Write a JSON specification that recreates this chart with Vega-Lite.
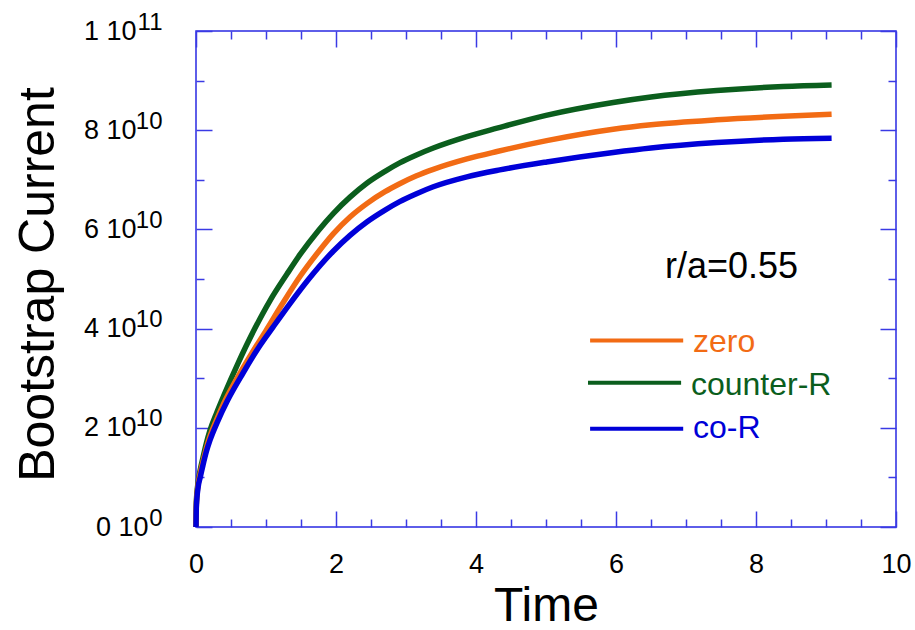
{
  "$schema": "https://vega.github.io/schema/vega-lite/v6.json",
  "width": 700,
  "height": 496,
  "autosize": {"type": "none"},
  "padding": {"left": 196, "top": 31, "right": 19, "bottom": 103},
  "background": "white",
  "config": {
    "view": {"stroke": "#2a2ae2", "strokeWidth": 1.5},
    "font": "Liberation Sans"
  },
  "datasets": {
    "curves": [
      {"series": "counter-R", "time": 0, "current": 0},
      {"series": "counter-R", "time": 0.005, "current": 5e9},
      {"series": "counter-R", "time": 0.03, "current": 9e9},
      {"series": "counter-R", "time": 0.06, "current": 1.15e10},
      {"series": "counter-R", "time": 0.1, "current": 1.4e10},
      {"series": "counter-R", "time": 0.15, "current": 1.7e10},
      {"series": "counter-R", "time": 0.2, "current": 1.95e10},
      {"series": "counter-R", "time": 0.3, "current": 2.32e10},
      {"series": "counter-R", "time": 0.4, "current": 2.66e10},
      {"series": "counter-R", "time": 0.6, "current": 3.3e10},
      {"series": "counter-R", "time": 0.84, "current": 4.0e10},
      {"series": "counter-R", "time": 1.06, "current": 4.57e10},
      {"series": "counter-R", "time": 1.3, "current": 5.1e10},
      {"series": "counter-R", "time": 1.49, "current": 5.5e10},
      {"series": "counter-R", "time": 1.75, "current": 5.98e10},
      {"series": "counter-R", "time": 1.96, "current": 6.32e10},
      {"series": "counter-R", "time": 2.2, "current": 6.65e10},
      {"series": "counter-R", "time": 2.44, "current": 6.93e10},
      {"series": "counter-R", "time": 2.7, "current": 7.17e10},
      {"series": "counter-R", "time": 2.91, "current": 7.34e10},
      {"series": "counter-R", "time": 3.15, "current": 7.5e10},
      {"series": "counter-R", "time": 3.39, "current": 7.64e10},
      {"series": "counter-R", "time": 3.87, "current": 7.87e10},
      {"series": "counter-R", "time": 4.3, "current": 8.04e10},
      {"series": "counter-R", "time": 5.0, "current": 8.3e10},
      {"series": "counter-R", "time": 5.96, "current": 8.56e10},
      {"series": "counter-R", "time": 6.5, "current": 8.67e10},
      {"series": "counter-R", "time": 7.44, "current": 8.8e10},
      {"series": "counter-R", "time": 8.39, "current": 8.88e10},
      {"series": "counter-R", "time": 9.08, "current": 8.91e10},
      {"series": "zero", "time": 0, "current": 0},
      {"series": "zero", "time": 0.005, "current": 4.5e9},
      {"series": "zero", "time": 0.03, "current": 8.5e9},
      {"series": "zero", "time": 0.06, "current": 1.08e10},
      {"series": "zero", "time": 0.1, "current": 1.32e10},
      {"series": "zero", "time": 0.15, "current": 1.6e10},
      {"series": "zero", "time": 0.2, "current": 1.83e10},
      {"series": "zero", "time": 0.3, "current": 2.18e10},
      {"series": "zero", "time": 0.4, "current": 2.5e10},
      {"series": "zero", "time": 0.6, "current": 3.03e10},
      {"series": "zero", "time": 0.8, "current": 3.51e10},
      {"series": "zero", "time": 1.0, "current": 3.96e10},
      {"series": "zero", "time": 1.23, "current": 4.49e10},
      {"series": "zero", "time": 1.49, "current": 5.06e10},
      {"series": "zero", "time": 1.75, "current": 5.55e10},
      {"series": "zero", "time": 1.96, "current": 5.91e10},
      {"series": "zero", "time": 2.2, "current": 6.25e10},
      {"series": "zero", "time": 2.44, "current": 6.52e10},
      {"series": "zero", "time": 2.7, "current": 6.76e10},
      {"series": "zero", "time": 2.91, "current": 6.92e10},
      {"series": "zero", "time": 3.15, "current": 7.08e10},
      {"series": "zero", "time": 3.39, "current": 7.21e10},
      {"series": "zero", "time": 3.87, "current": 7.42e10},
      {"series": "zero", "time": 4.3, "current": 7.57e10},
      {"series": "zero", "time": 5.01, "current": 7.79e10},
      {"series": "zero", "time": 5.96, "current": 8.02e10},
      {"series": "zero", "time": 6.5, "current": 8.11e10},
      {"series": "zero", "time": 7.44, "current": 8.21e10},
      {"series": "zero", "time": 8.39, "current": 8.28e10},
      {"series": "zero", "time": 9.08, "current": 8.32e10},
      {"series": "co-R", "time": 0, "current": 0},
      {"series": "co-R", "time": 0.005, "current": 4e9},
      {"series": "co-R", "time": 0.03, "current": 8e9},
      {"series": "co-R", "time": 0.06, "current": 1.0e10},
      {"series": "co-R", "time": 0.1, "current": 1.25e10},
      {"series": "co-R", "time": 0.15, "current": 1.53e10},
      {"series": "co-R", "time": 0.2, "current": 1.75e10},
      {"series": "co-R", "time": 0.3, "current": 2.1e10},
      {"series": "co-R", "time": 0.45, "current": 2.55e10},
      {"series": "co-R", "time": 0.67, "current": 3.1e10},
      {"series": "co-R", "time": 0.9, "current": 3.63e10},
      {"series": "co-R", "time": 1.1, "current": 4.03e10},
      {"series": "co-R", "time": 1.34, "current": 4.5e10},
      {"series": "co-R", "time": 1.6, "current": 4.98e10},
      {"series": "co-R", "time": 1.96, "current": 5.56e10},
      {"series": "co-R", "time": 2.2, "current": 5.88e10},
      {"series": "co-R", "time": 2.44, "current": 6.15e10},
      {"series": "co-R", "time": 2.7, "current": 6.39e10},
      {"series": "co-R", "time": 2.91, "current": 6.56e10},
      {"series": "co-R", "time": 3.15, "current": 6.72e10},
      {"series": "co-R", "time": 3.39, "current": 6.86e10},
      {"series": "co-R", "time": 3.87, "current": 7.06e10},
      {"series": "co-R", "time": 4.34, "current": 7.2e10},
      {"series": "co-R", "time": 5.01, "current": 7.36e10},
      {"series": "co-R", "time": 5.96, "current": 7.55e10},
      {"series": "co-R", "time": 6.5, "current": 7.64e10},
      {"series": "co-R", "time": 7.44, "current": 7.75e10},
      {"series": "co-R", "time": 8.39, "current": 7.82e10},
      {"series": "co-R", "time": 9.08, "current": 7.84e10}
    ],
    "legendLines": [
      {"series": "zero", "x1": 5.63, "x2": 6.96, "y": 3.76e10, "label": "zero", "lx": 7.1, "ly": 3.72e10},
      {"series": "counter-R", "x1": 5.6, "x2": 6.93, "y": 2.91e10, "label": "counter-R", "lx": 7.07, "ly": 2.87e10},
      {"series": "co-R", "x1": 5.63, "x2": 6.96, "y": 1.98e10, "label": "co-R", "lx": 7.1, "ly": 2.0e10}
    ],
    "annot": [
      {"text": "r/a=0.55", "x": 6.7, "y": 5.25e10}
    ]
  },
  "resolve": {"axis": {"x": "independent", "y": "independent"}},
  "layer": [
    {
      "data": {"name": "curves"},
      "mark": {"type": "line", "strokeWidth": 5.5, "strokeCap": "butt", "interpolate": "monotone"},
      "encoding": {
        "x": {
          "field": "time", "type": "quantitative",
          "scale": {"domain": [0, 10], "nice": false, "zero": false},
          "axis": {
            "orient": "bottom",
            "title": "Time",
            "titleFont": "Liberation Sans", "titleFontSize": 48, "titleFontWeight": "normal", "titleColor": "black",
            "titleBaseline": "alphabetic", "titleY": 93, "titleX": 350, "titleAlign": "center",
            "values": [0, 2, 4, 6, 8, 10],
            "format": "d",
            "labelFont": "Liberation Sans", "labelFontSize": 27, "labelColor": "black",
            "labelOverlap": false, "labelFlush": false,
            "labelPadding": 24,
            "ticks": false, "domain": false, "grid": false
          }
        },
        "y": {
          "field": "current", "type": "quantitative",
          "scale": {"domain": [0, 1e11], "nice": false, "zero": false},
          "axis": {
            "orient": "left",
            "title": "Bootstrap Current",
            "titleFont": "Liberation Sans", "titleFontSize": 50, "titleFontWeight": "normal", "titleColor": "black",
            "titleAngle": -90, "titleBaseline": "alphabetic", "titleAlign": "center",
            "titleX": -143, "titleY": 253,
            "values": [0, 2e10, 4e10, 6e10, 8e10, 1e11],
            "labelExpr": "datum.value == 0 ? '0 10' : (datum.value >= 1e11 ? '1 10' : round(datum.value/1e10) + ' 10')",
            "labelFont": "Liberation Sans", "labelFontSize": 27, "labelColor": "black",
            "labelOverlap": false, "labelFlush": false,
            "labelPadding": {"condition": {"test": "datum.value == 0", "value": 48}, "value": 60},
            "ticks": false, "domain": false, "grid": false
          }
        },
        "color": {
          "field": "series", "type": "nominal",
          "scale": {"domain": ["zero", "counter-R", "co-R"], "range": ["#f26b14", "#0b5e1d", "#0000d8"]},
          "legend": null
        },
        "detail": {"field": "series"}
      }
    },
    {
      "data": {"name": "curves"},
      "mark": {"type": "point", "opacity": 0},
      "encoding": {
        "x": {
          "field": "time", "type": "quantitative",
          "axis": {
            "orient": "top", "title": null, "labels": false,
            "values": [0,0.5,1,1.5,2,2.5,3,3.5,4,4.5,5,5.5,6,6.5,7,7.5,8,8.5,9,9.5,10],
            "tickSize": {"condition": {"test": "datum.value % 2 == 0", "value": -16}, "value": -8},
            "tickColor": "#3a3ae4", "tickWidth": 1.5,
            "domain": false, "grid": false
          }
        },
        "y": {
          "field": "current", "type": "quantitative",
          "axis": {
            "orient": "right", "title": null, "labels": false,
            "values": [0,1e10,2e10,3e10,4e10,5e10,6e10,7e10,8e10,9e10,1e11],
            "tickSize": {"condition": {"test": "round(datum.value/1e10) % 2 == 0", "value": -16}, "value": -8},
            "tickColor": "#3a3ae4", "tickWidth": 1.5,
            "domain": false, "grid": false
          }
        }
      }
    },
    {
      "data": {"name": "curves"},
      "mark": {"type": "point", "opacity": 0},
      "encoding": {
        "x": {
          "field": "time", "type": "quantitative",
          "axis": {
            "orient": "bottom", "title": null, "labels": false,
            "values": [0,0.5,1,1.5,2,2.5,3,3.5,4,4.5,5,5.5,6,6.5,7,7.5,8,8.5,9,9.5,10],
            "tickSize": {"condition": {"test": "datum.value % 2 == 0", "value": -16}, "value": -8},
            "tickColor": "#3a3ae4", "tickWidth": 1.5,
            "domain": false, "grid": false
          }
        },
        "y": {
          "field": "current", "type": "quantitative",
          "axis": {
            "orient": "left", "title": null, "labels": false,
            "values": [0,1e10,2e10,3e10,4e10,5e10,6e10,7e10,8e10,9e10,1e11],
            "tickSize": {"condition": {"test": "round(datum.value/1e10) % 2 == 0", "value": -16}, "value": -8},
            "tickColor": "#3a3ae4", "tickWidth": 1.5,
            "domain": false, "grid": false
          }
        }
      }
    },
    {
      "data": {"name": "curves"},
      "mark": {"type": "point", "opacity": 0},
      "encoding": {
        "x": {"field": "time", "type": "quantitative", "axis": null},
        "y": {
          "field": "current", "type": "quantitative",
          "axis": {
            "orient": "left", "title": null,
            "values": [0, 2e10, 4e10, 6e10, 8e10, 1e11],
            "labelExpr": "datum.value == 0 ? '0' : (datum.value >= 1e11 ? '11' : '10')",
            "labelFont": "Liberation Sans", "labelFontSize": 24, "labelColor": "black",
            "labelOverlap": false, "labelFlush": false,
            "labelPadding": 34, "labelOffset": -9,
            "ticks": false, "domain": false, "grid": false
          }
        }
      }
    },
    {
      "data": {"name": "legendLines"},
      "mark": {"type": "rule", "strokeWidth": 4},
      "encoding": {
        "x": {"field": "x1", "type": "quantitative", "axis": null},
        "x2": {"field": "x2"},
        "y": {"field": "y", "type": "quantitative", "axis": null},
        "color": {"field": "series", "type": "nominal", "legend": null}
      }
    },
    {
      "data": {"name": "legendLines"},
      "mark": {"type": "text", "align": "left", "baseline": "middle", "fontSize": 32, "font": "Liberation Sans"},
      "encoding": {
        "x": {"field": "lx", "type": "quantitative", "axis": null},
        "y": {"field": "ly", "type": "quantitative", "axis": null},
        "text": {"field": "label"},
        "color": {"field": "series", "type": "nominal", "legend": null}
      }
    },
    {
      "data": {"name": "annot"},
      "mark": {"type": "text", "align": "left", "baseline": "middle", "fontSize": 36, "font": "Liberation Sans", "color": "black"},
      "encoding": {
        "x": {"field": "x", "type": "quantitative", "axis": null},
        "y": {"field": "y", "type": "quantitative", "axis": null},
        "text": {"field": "text"}
      }
    }
  ]
}
